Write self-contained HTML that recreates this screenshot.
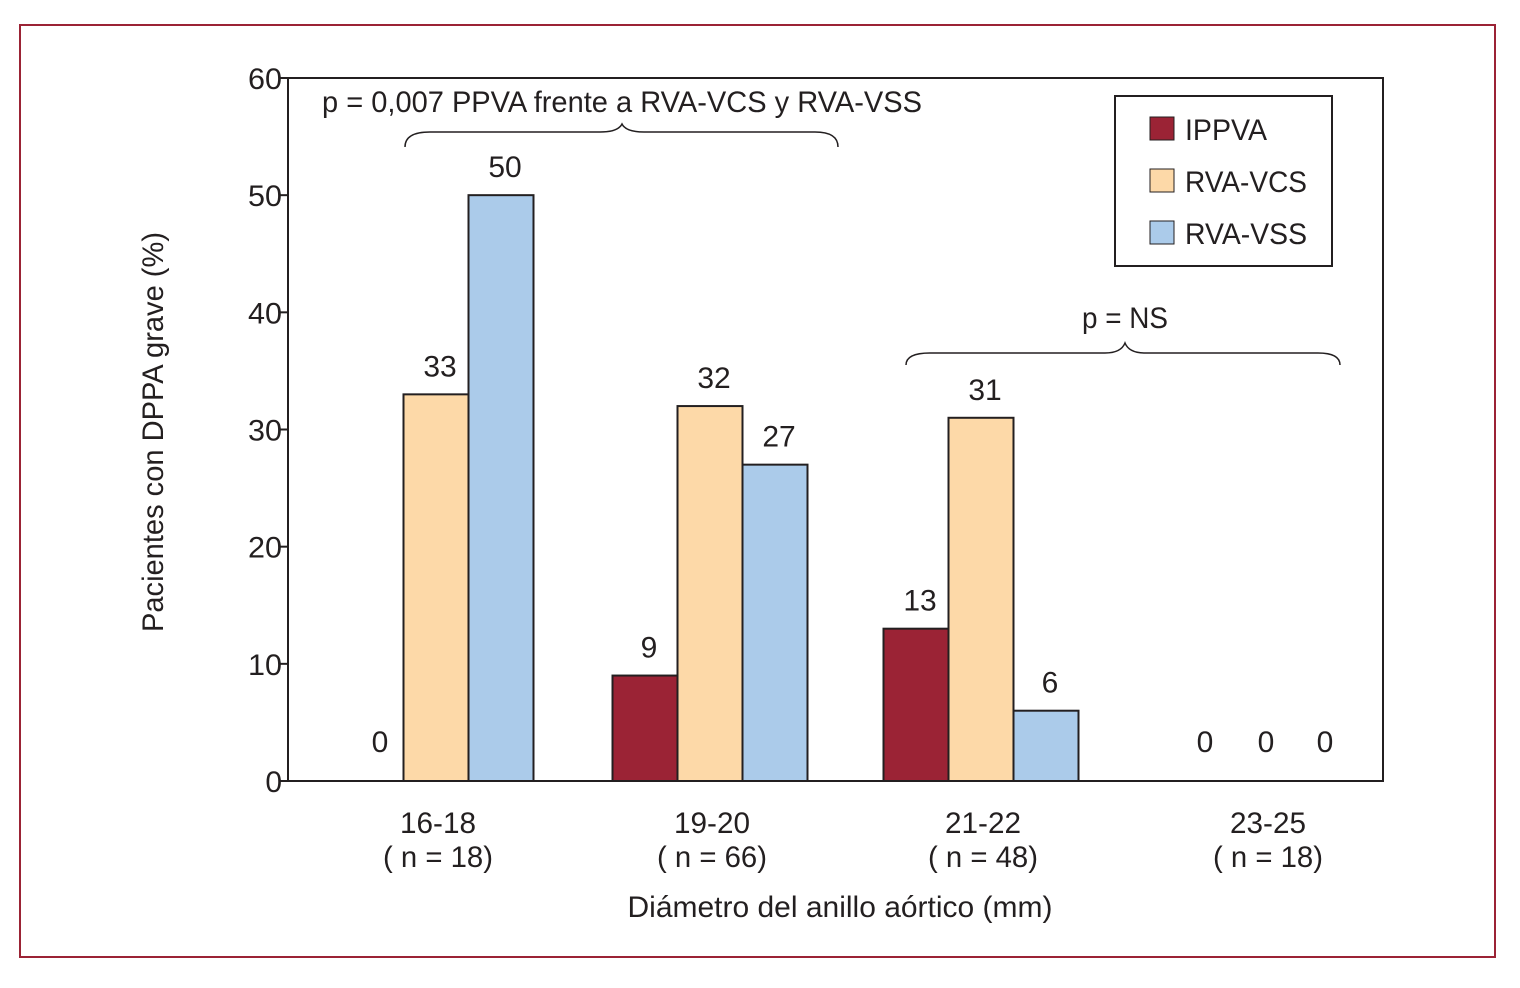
<!DOCTYPE html>
<html><head><meta charset="utf-8"><style>
body{margin:0;background:#fff;}
svg text{font-family:"Liberation Sans Narrow","Liberation Sans",sans-serif;fill:#231f20;}
</style></head><body>
<svg width="1520" height="983" xmlns="http://www.w3.org/2000/svg" id="chart">
<rect x="20" y="25" width="1475" height="932" fill="#fff" stroke="#9b2335" stroke-width="2"/>
<rect x="288" y="78" width="1095" height="703" fill="none" stroke="#231f20" stroke-width="2"/>
<g id="bars"></g><g id="axes"></g>
<text x="163" y="432" font-size="30" text-anchor="middle" textLength="400" lengthAdjust="spacingAndGlyphs" transform="rotate(-90 163 432)">Pacientes con DPPA grave (%)</text>
<text x="840" y="917" font-size="30" text-anchor="middle" textLength="425" lengthAdjust="spacingAndGlyphs">Diámetro del anillo aórtico (mm)</text>
<text x="322" y="112" font-size="30" textLength="600" lengthAdjust="spacingAndGlyphs">p = 0,007 PPVA frente a RVA-VCS y RVA-VSS</text>
<path d="M405,147 Q405,132 430,132 L600,132 Q618,132 622,124 Q626,132 644,132 L815,132 Q838,132 838,147" fill="none" stroke="#231f20" stroke-width="1.5"/>
<text x="1125" y="328" font-size="30" text-anchor="middle" textLength="86" lengthAdjust="spacingAndGlyphs">p = NS</text>
<path d="M906,365 Q906,353 930,353 L1105,353 Q1121,353 1125,343 Q1129,353 1145,353 L1318,353 Q1340,353 1340,365" fill="none" stroke="#231f20" stroke-width="1.5"/>
<g>
<rect x="1115" y="96" width="217" height="170" fill="#fff" stroke="#231f20" stroke-width="2"/>
<rect x="1150" y="117" width="24" height="23" fill="#9b2335" stroke="#231f20"/>
<text x="1185" y="140" font-size="30" textLength="82" lengthAdjust="spacingAndGlyphs">IPPVA</text>
<rect x="1150" y="169" width="24" height="23" fill="#fdd9a8" stroke="#231f20"/>
<text x="1185" y="192" font-size="30" textLength="122" lengthAdjust="spacingAndGlyphs">RVA-VCS</text>
<rect x="1150" y="221" width="24" height="23" fill="#abcbea" stroke="#231f20"/>
<text x="1185" y="244" font-size="30" textLength="122" lengthAdjust="spacingAndGlyphs">RVA-VSS</text>
</g>
</svg>
<script>
const categories=["16-18","19-20","21-22","23-25"];
const catN=["( n = 18)","( n = 66)","( n = 48)","( n = 18)"];
const ippva=[0,9,13,0];
const rvaVcs=[33,32,31,0];
const rvaVss=[50,27,6,0];
const yTicks=[0,10,20,30,40,50,60];
const NS="http://www.w3.org/2000/svg";
const y=v=>781-v*703/60;
const centers=[436,710,981,1266];
const bw=65;
const bars=document.getElementById('bars'),axes=document.getElementById('axes');
function mk(t,a,p){const e=document.createElementNS(NS,t);for(const k in a)e.setAttribute(k,a[k]);p.appendChild(e);return e;}
const series=[[ippva,"#9b2335","ippva"],[rvaVcs,"#fdd9a8","rva-vcs"],[rvaVss,"#abcbea","rva-vss"]];
categories.forEach((c,i)=>{
 series.forEach(([arr,col,nm],s)=>{
  const v=arr[i];const x0=centers[i]+(s-1.5)*bw;
  if(v>0){const r=mk('rect',{x:x0,y:y(v),width:bw,height:781-y(v),fill:col,stroke:"#231f20","stroke-width":2},bars);
   
   }
  const off=i===3?[4,0,-6][s]:(v===0?9:4);
  const t=mk('text',{x:centers[i]+(s-1)*bw+off,y:v===0?752:y(v)-18,"font-size":30,"text-anchor":"middle",transform:"",style:""},bars);
  t.textContent=v;
  
  
 });
 const t1=mk('text',{x:centers[i]+2,y:833,"font-size":30,"text-anchor":"middle",textLength:76,lengthAdjust:"spacingAndGlyphs"},axes);t1.textContent=c;
 
 
 const t2=mk('text',{x:centers[i]+2,y:867,"font-size":30,"text-anchor":"middle",textLength:110,lengthAdjust:"spacingAndGlyphs"},axes);t2.textContent=catN[i];
 
 
});
yTicks.forEach(v=>{
 const l=mk('line',{x1:280,x2:288,y1:y(v),y2:y(v),stroke:"#231f20","stroke-width":2},axes);
 
 
 const t=mk('text',{x:282,y:y(v)+11,"font-size":30,"text-anchor":"end"},axes);t.textContent=v;
 if(v>=10){t.setAttribute('textLength',34);t.setAttribute('lengthAdjust','spacingAndGlyphs');}
 
 
});
</script>
</body></html>
